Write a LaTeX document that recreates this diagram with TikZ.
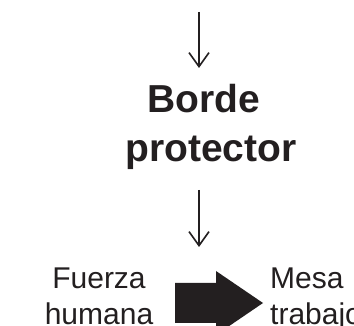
\documentclass[tikz,border=0pt]{standalone}
\usepackage{fontspec}
\setmainfont{Liberation Sans}
\usetikzlibrary{arrows.meta}
\definecolor{ink}{HTML}{231F20}
\begin{document}
\begin{tikzpicture}[x=1pt,y=-1pt,
  title/.style={font=\fontsize{39}{45}\selectfont\bfseries, text=ink, inner sep=0pt, anchor=base},
  label/.style={font=\fontsize{30}{35}\selectfont, text=ink, inner sep=0pt, anchor=base},
  thinarrow/.style={draw=ink, line width=1.6pt, -{Straight Barb[length=14pt,width=20pt,line width=1.6pt]}},
  bigarrow/.style={fill=ink, draw=none}]
\useasboundingbox (0,0) rectangle (354,326);
\clip (0,0) rectangle (354,326);
\fill[white] (0,0) rectangle (354,326);
% nodes
\node[title] (borde) at (203.5,113) {Borde};
\node[title] (prot) at (211,162) {protector};
\node[label] (fuerza) at (99,289) {Fuerza};
\node[label] (humana) at (99,324.5) {humana};
\node[label, anchor=base west] (mesa) at (270,289) {Mesa};
\node[label, anchor=base west] (trabajo) at (270,324.5) {trabajo};
% arrow ends
\coordinate (a1s) at (199,12);
\coordinate (a1e) at (199,68);
\coordinate (a2s) at (199,190);
\coordinate (a2e) at (199,247);
\draw[thinarrow] (a1s) -- (a1e);
\draw[thinarrow] (a2s) -- (a2e);
% big block arrow
\fill[bigarrow] (175,283) -- (216,283) -- (216,271) -- (263,303) -- (216,335) -- (216,323) -- (175,323) -- cycle;
\end{tikzpicture}
\end{document}
